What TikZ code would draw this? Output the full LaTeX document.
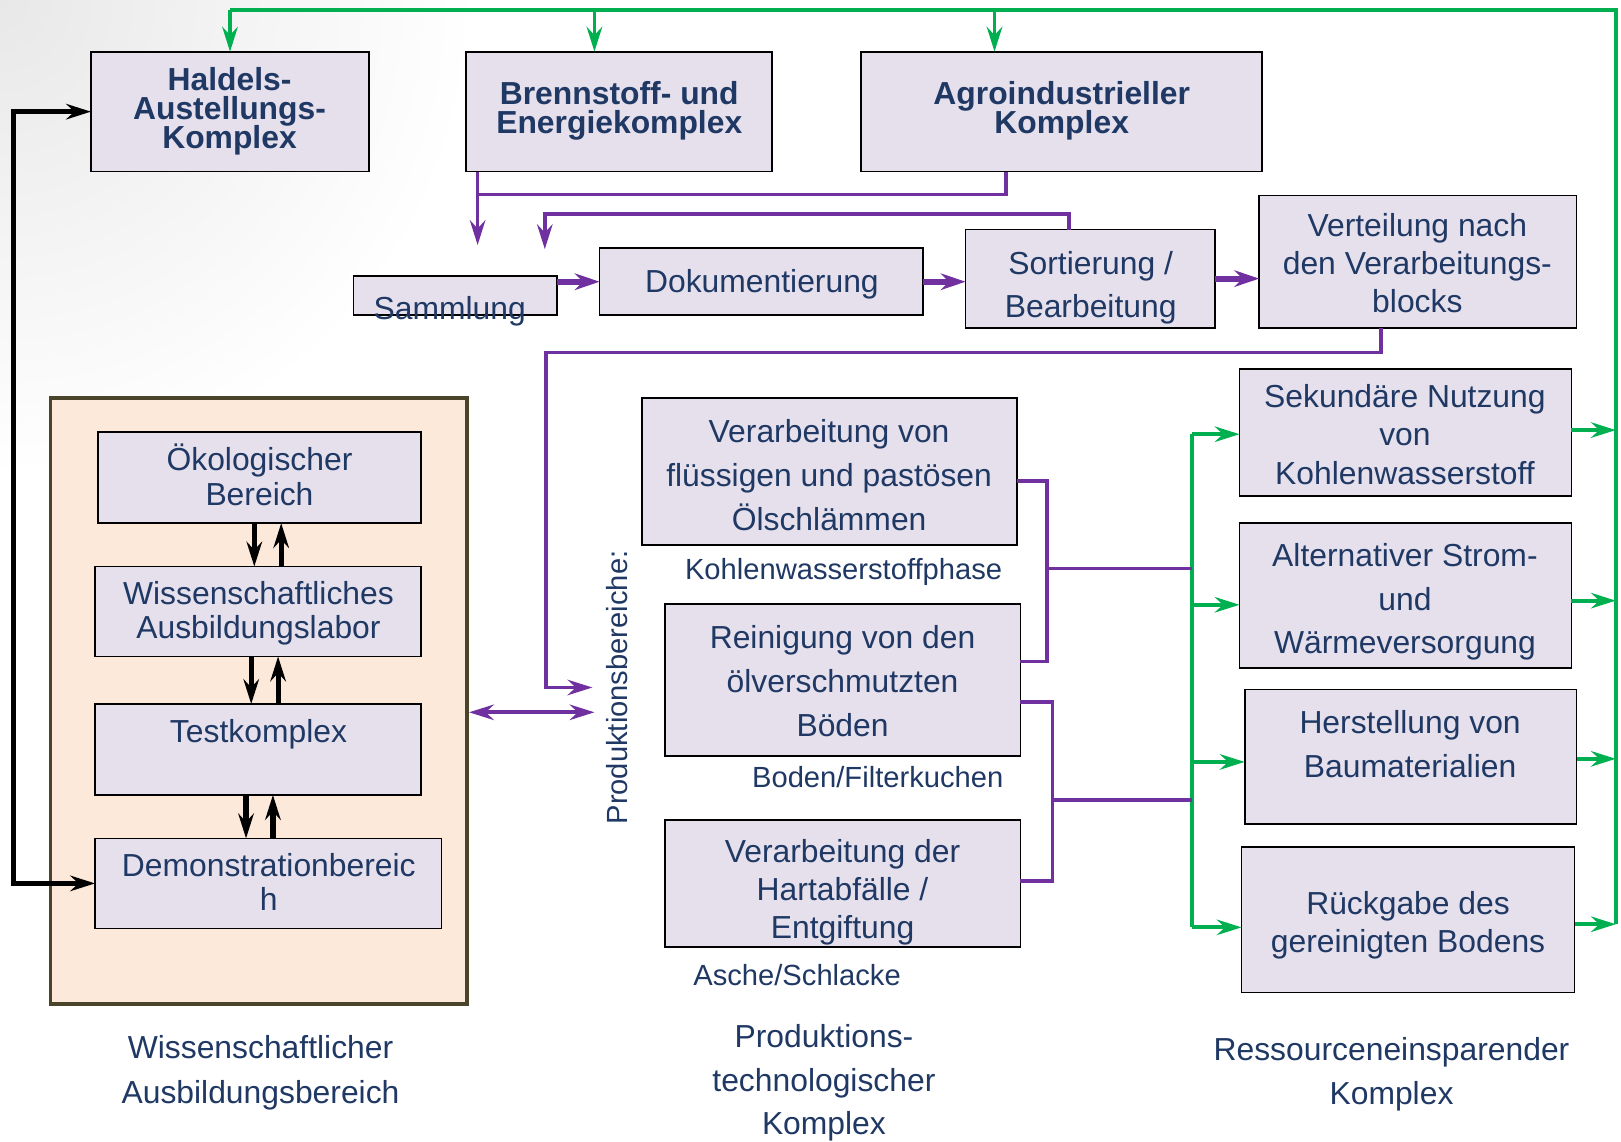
\documentclass[tikz,border=0pt]{standalone}
\usepackage{fontspec}
\setmainfont{Liberation Sans}
\usetikzlibrary{arrows.meta,calc}

\definecolor{navy}{HTML}{1F3864}
\definecolor{boxfill}{HTML}{E5E0EC}
\definecolor{gline}{HTML}{00B050}
\definecolor{pline}{HTML}{7030A0}
\definecolor{panelfill}{HTML}{FDE9D9}
\definecolor{paneledge}{HTML}{4A452A}

% let tight line spacing win over \lineskip
\lineskiplimit=-100pt
\newcommand\toprule[1]{\vrule height #1 depth 0pt width 0pt\relax}
\newcommand\botrule[1]{\vrule height 0pt depth #1 width 0pt\relax}

\tikzset{
  box/.style={draw=black, line width=1.6pt, fill=boxfill, inner sep=0pt, outer sep=0pt},
  tx/.style={text=navy, align=center, inner sep=0pt,
    font=\fontsize{30.8}{#1}\selectfont,
    execute at begin node={\toprule{29.3pt}},
    execute at end node={\botrule{7.7pt}}},
  tx/.default=33.5,
  txs/.style={text=navy, align=center, inner sep=0pt,
    font=\fontsize{28.2}{33}\selectfont,
    execute at begin node={\toprule{26.8pt}},
    execute at end node={\botrule{7pt}}},
  txb/.style={text=navy, align=center, inner sep=0pt,
    font=\bfseries\fontsize{30.8}{28}\selectfont,
    execute at begin node={\toprule{29.3pt}},
    execute at end node={\botrule{7.7pt}}},
  tip/.style={-{Stealth[length=24pt,width=15pt,inset=8pt]}},
  gconn/.style={draw=gline, line width=3.7pt},
  garrow/.style={gconn, tip},
  pconn/.style={draw=pline, line width=3.5pt},
  parrow/.style={pconn, tip},
  pthick/.style={draw=pline, line width=6pt, -{Stealth[length=24pt,width=16pt,inset=8pt]}},
  bconn/.style={draw=black, line width=5pt,
    {Stealth[length=24pt,width=15pt,inset=8pt]}-{Stealth[length=24pt,width=15pt,inset=8pt]}},
  barrow/.style={draw=black, line width=5pt, -{Stealth[length=24pt,width=15pt,inset=8pt]}},
}

\begin{document}
\begin{tikzpicture}[x=1pt, y=-1pt]
\useasboundingbox (0,0) rectangle (1568,1104);

% soft grey corner of the slide
\begin{scope}
  \clip (0,0) rectangle (1568,1104);
  \shade[inner color=black!9, outer color=white] (-460,-460) rectangle (460,460);
\end{scope}

% ---- top row: complexes ----
\node[box, minimum width=269pt, minimum height=116pt] (hal)  at (222.5,108) {};
\node[box, minimum width=296pt, minimum height=116pt] (bren) at (599,108) {};
\node[box, minimum width=388pt, minimum height=116pt] (agro) at (1027,108) {};
\node[txb] (hal-t)  at (222,108) {Haldels-\\Austellungs-\\Komplex};
\node[txb] (bren-t) at (599,108) {Brennstoff- und\\Energiekomplex};
\node[txb] (agro-t) at (1027,108) {Agroindustrieller\\Komplex};

% ---- processing chain ----
\node[box, minimum width=197pt, minimum height=38pt]  (samm) at (440.5,286) {};
\node[box, minimum width=313pt, minimum height=65pt]  (doku) at (736.5,272.5) {};
\node[box, minimum width=241pt, minimum height=95pt]  (sort) at (1054.5,269.5) {};
\node[box, minimum width=307pt, minimum height=128pt] (vert) at (1371.5,253) {};
\node[tx] (samm-t) at (435,298) {Sammlung};
\node[tx] (doku-t) at (737,272) {Dokumentierung};
\node[tx=42] (sort-t) at (1055,279) {Sortierung /\\Bearbeitung};
\node[tx=37] (vert-t) at (1371,258) {Verteilung nach\\den Verarbeitungs-\\blocks};

% ---- scientific training area ----
\node[draw=paneledge, line width=3.5pt, fill=panelfill, minimum width=403pt, minimum height=586pt, inner sep=0pt] (panel) at (250.5,678) {};
\node[box, minimum width=312pt, minimum height=88pt] (oeko) at (251,462) {};
\node[box, minimum width=315pt, minimum height=87pt] (wiss) at (249.5,591.5) {};
\node[box, minimum width=315pt, minimum height=88pt] (test) at (249.5,725) {};
\node[box, minimum width=335pt, minimum height=87pt] (demo) at (259.5,854.5) {};
\node[tx] (oeko-t) at (251,463) {Ökologischer\\Bereich};
\node[tx] (wiss-t) at (250,594) {Wissenschaftliches\\Ausbildungslabor};
\node[tx] (test-t) at (250,707) {Testkomplex};
\node[tx] (demo-t) at (260,857) {Demonstrationbereic\\h};

% ---- production areas ----
\node[box, minimum width=363pt, minimum height=142pt] (p1) at (802.5,456) {};
\node[box, minimum width=344pt, minimum height=147pt] (p2) at (815,657.5) {};
\node[box, minimum width=344pt, minimum height=123pt] (p3) at (815,854.5) {};
\node[tx=42.5] (p1-t) at (802,463) {Verarbeitung von\\flüssigen und pastösen\\Ölschlämmen};
\node[tx=43]   (p2-t) at (815,662.5) {Reinigung von den\\ölverschmutzten\\Böden};
\node[tx=37]   (p3-t) at (815,863.5) {Verarbeitung der\\Hartabfälle /\\Entgiftung};
\node[txs] (khp)   at (816,551) {Kohlenwasserstoffphase};
\node[txs] (bfk)   at (849,752) {Boden/Filterkuchen};
\node[txs] (asche) at (771,943) {Asche/Schlacke};
\node[txs, rotate=90] (pbr) at (597,665) {Produktionsbereiche:};

% ---- resource saving complex ----
\node[box, minimum width=321pt, minimum height=123pt] (r1) at (1359.5,418.5) {};
\node[box, minimum width=321pt, minimum height=140pt] (r2) at (1359.5,576) {};
\node[box, minimum width=321pt, minimum height=130pt] (r3) at (1364.5,732) {};
\node[box, minimum width=322pt, minimum height=141pt] (r4) at (1362,889.5) {};
\node[tx=37] (r1-t) at (1359,424) {Sekundäre Nutzung\\von\\Kohlenwasserstoff};
\node[tx=42] (r2-t) at (1359,583) {Alternativer Strom-\\und\\Wärmeversorgung};
\node[tx=43] (r3-t) at (1364,723.5) {Herstellung von\\Baumaterialien};
\node[tx=37] (r4-t) at (1362,895.5) {Rückgabe des\\gereinigten Bodens};

% ---- area captions ----
\node[tx=43]   (cap-w) at (252,1038.5) {Wissenschaftlicher\\Ausbildungsbereich};
\node[tx=42.5] (cap-p) at (797,1048) {Produktions-\\technologischer\\Komplex};
\node[tx=43]   (cap-r) at (1346,1040) {Ressourceneinsparender\\Komplex};

% ---- green feedback bus ----
\coordinate (gbus) at (1563,10);
\coordinate (gl) at (1153,0);
\coordinate (bren-in) at ([xshift=-24pt]bren.north);
\coordinate (agro-in) at ([xshift=-65pt]agro.north);
\draw[gconn] (hal.north |- gbus) -- (gbus) -- ([yshift=-4.5pt]r4.east -| gbus);
\draw[garrow] (hal.north |- gbus) -- (hal.north);
\draw[garrow] (bren-in |- gbus) -- (bren-in);
\draw[garrow] (agro-in |- gbus) -- (agro-in);
% outputs of the resource blocks (shift: canvas points, up is positive)
\foreach \r/\s in {r1/2.5, r2/-5, r3/-2, r4/-4.5}
  \draw[garrow] ([yshift=\s pt]\r.east) -- ([yshift=\s pt]\r.east -| gbus);
\draw[gconn] ([yshift=-1.5pt]r1.west -| gl) -- ([yshift=-7.5pt]r4.west -| gl);
\foreach \r/\s in {r1/-1.5, r2/-9, r3/-5, r4/-7.5}
  \draw[garrow] ([yshift=\s pt]\r.west -| gl) -- ([yshift=\s pt]\r.west);

% ---- purple material flow ----
\coordinate (bren-out) at ([xshift=-137pt]bren.south);
\coordinate (agro-out) at ([xshift=-54pt]agro.south);
\coordinate (in-a) at (462,237);
\coordinate (in-b) at (527,241);
\coordinate (sort-up) at ([xshift=-20.5pt]sort.north);
\coordinate (h188) at (0,188);
\coordinate (h207) at (0,207);
\draw[pconn] (agro-out) |- (bren-out |- h188);
\draw[parrow] (bren-out) -- (in-a);
\draw[parrow] (sort-up) |- (in-b |- h207) -- (in-b);
\draw[pthick] (samm.east |- doku.west) -- (doku.west);
\draw[pthick] (doku.east) -- (sort.west |- doku.east);
\draw[pthick] (sort.east) -- (vert.west |- sort.east);

\coordinate (vert-out) at ([xshift=-35.5pt]vert.south);
\coordinate (pb1) at (573,665);
\coordinate (pb2) at (575,689);
\draw[parrow] (vert-out) |- (528,341) |- (pb1);
\draw[pconn, {Stealth[length=24pt,width=15pt,inset=8pt]}-{Stealth[length=24pt,width=15pt,inset=8pt]}] (panel.east |- pb2) -- (pb2);

% collectors of the production outputs
\coordinate (p1-o) at ([yshift=-9pt]p1.east);
\coordinate (p2-i) at ([yshift=17.5pt]p2.east);
\coordinate (p2-o) at ([yshift=-21.5pt]p2.east);
\coordinate (p3-i) at ([yshift=2.5pt]p3.east);
\coordinate (c1) at (1013,550);
\coordinate (c2) at (1018,774);
\draw[pconn] (p1-o) -| (c1) |- (p2-i);
\draw[pconn] (c1) -- (gl |- c1);
\draw[pconn] (p2-o) -| (c2) |- (p3-i);
\draw[pconn] (c2) -- (gl |- c2);

% ---- black links of the training area ----
\coordinate (bl) at (13,0);
\draw[bconn] (hal.west) -- (hal.west -| bl) -- (demo.west -| bl) -- (demo.west);
\draw[barrow] ([xshift=-5pt]oeko.south) -- ([xshift=-5pt]oeko.south |- wiss.north);
\draw[barrow] ([xshift=22.5pt]wiss.north) -- ([xshift=22.5pt]wiss.north |- oeko.south);
\draw[barrow] ([xshift=-6.5pt]wiss.south) -- ([xshift=-6.5pt]wiss.south |- test.north);
\draw[barrow] ([xshift=19.5pt]test.north) -- ([xshift=19.5pt]test.north |- wiss.south);
\draw[barrow] ([xshift=-11.5pt]test.south) -- ([xshift=-11.5pt]test.south |- demo.north);
\draw[barrow] ([xshift=4.5pt]demo.north) -- ([xshift=4.5pt]demo.north |- test.south);
\end{tikzpicture}
\end{document}
